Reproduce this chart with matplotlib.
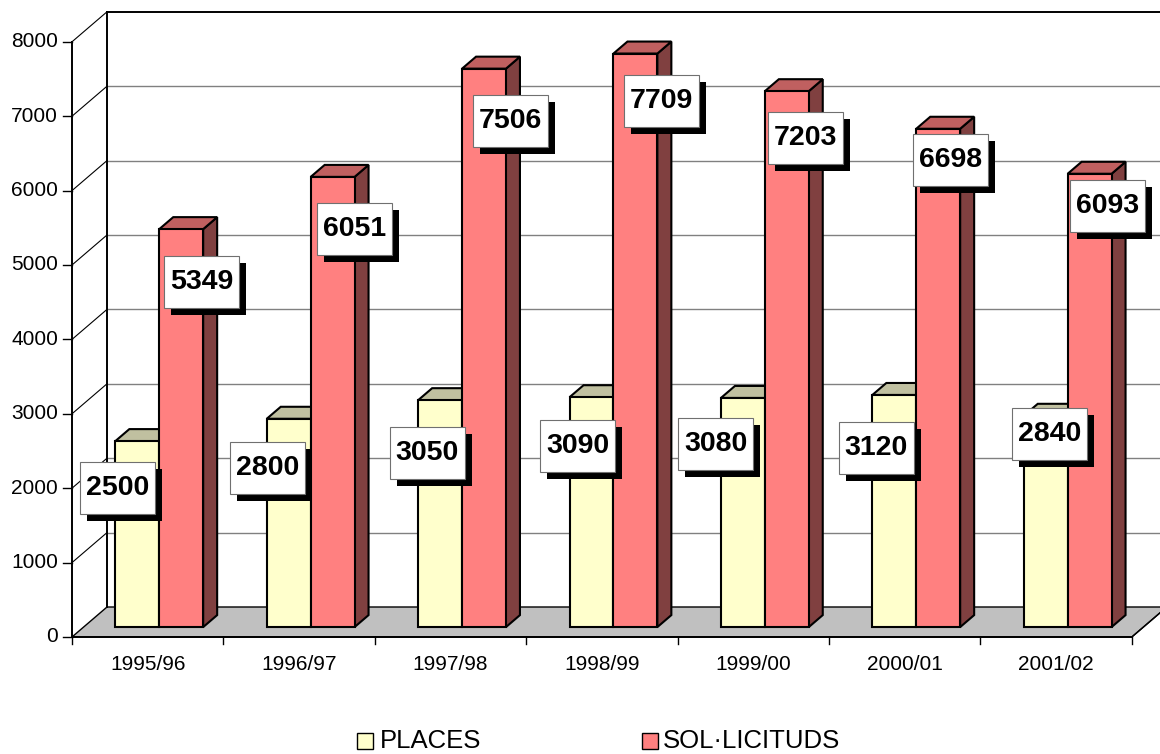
import matplotlib
matplotlib.use("Agg")
import matplotlib.pyplot as plt
from matplotlib.patches import Polygon, Rectangle

# ---------------- data ----------------
categories = ["1995/96", "1996/97", "1997/98", "1998/99", "1999/00", "2000/01", "2001/02"]
places = [2500, 2800, 3050, 3090, 3080, 3120, 2840]
sollicituds = [5349, 6051, 7506, 7709, 7203, 6698, 6093]
series_names = ["PLACES", "SOL\u00b7LICITUDS"]
yticks = [0, 1000, 2000, 3000, 4000, 5000, 6000, 7000, 8000]

# ---------------- layout / style ----------------
W, H = 1160, 754
X0_PX, Y0_PX = 72, 637          # front origin of the plot (pixels)
CAT_PX = 151.4                  # pixels per category
VAL_PX = 74.4 / 1000            # pixels per value unit
colors_front = ["#FFFFCC", "#FF8080"]
colors_top = ["#C0C0A0", "#C06060"]
colors_side = ["#A0A080", "#804040"]
bar_offsets = [0.21, 0.50]
bar_w = 0.29
d0, d1 = 0.33, 0.73
# label box offsets in pixels relative to bar front-top centre (dx right, dy down)
label_off = [
    [(-19.5, 47), (-21.4, 49), (-12.8, 52.6), (-14, 49), (-27, 46), (-18, 53), (4, 18)],
    [(20.5, 53), (21.6, 52), (26, 52), (26, 47), (19, 47), (12, 31), (18, 32)],
]

plt.rcParams["font.family"] = ["Liberation Sans", "DejaVu Sans"]

fig = plt.figure(figsize=(W / 100, H / 100), dpi=100)
ax = fig.add_axes([0, 0, 1, 1])
ax.set_xlim(-X0_PX / CAT_PX, (W - X0_PX) / CAT_PX)
ax.set_ylim(-(H - Y0_PX) / VAL_PX, Y0_PX / VAL_PX)
ax.axis("off")


def dxp(px):
    return px / CAT_PX


def dyp(px):
    return px / VAL_PX


DEPTH_X = dxp(35)
DEPTH_Y = dyp(30)
n = len(categories)
vmax = yticks[-1]


def P(x, v, d):
    return (x + d * DEPTH_X, v + d * DEPTH_Y)


# floor
ax.add_patch(Polygon([P(0, 0, 0), P(n, 0, 0), P(n, 0, 1), P(0, 0, 1)],
                     closed=True, fc="#C0C0C0", ec="black", lw=1.0, zorder=1))

# back wall gridlines and side wall diagonals
for v in yticks[1:]:
    a, b = P(0, v, 1), P(n, v, 1)
    if v == vmax:
        ax.plot([a[0], b[0]], [a[1], b[1]], color="black", lw=1.4, zorder=2)
    else:
        ax.plot([a[0], b[0]], [a[1], b[1]], color="#808080", lw=1.0, zorder=2)
    c = P(0, v, 0)
    ax.plot([c[0], a[0]], [c[1], a[1]], color="black", lw=0.8, zorder=2)

# back-left vertical edge and front value axis
a, b = P(0, 0, 1), P(0, vmax, 1)
ax.plot([a[0], b[0]], [a[1], b[1]], color="black", lw=1.4, zorder=2)
ax.plot([0, 0], [0, vmax], color="black", lw=1.4, zorder=3)
ax.plot([0, n], [0, 0], color="black", lw=1.4, zorder=3)
# right floor edge
a, b = P(n, 0, 0), P(n, 0, 1)
ax.plot([a[0], b[0]], [a[1], b[1]], color="black", lw=1.0, zorder=3)

# value ticks
for v in yticks:
    ax.plot([-dxp(9), 0], [v, v], color="black", lw=1.0, zorder=3)
    ax.text(-dxp(14), v, str(v), ha="right", va="center", fontsize=15, zorder=3)

# category ticks & labels
for k in range(n + 1):
    ax.plot([k, k], [0, -dyp(7)], color="black", lw=1.0, zorder=3)
for k, c in enumerate(categories):
    ax.text(k + 0.5, -dyp(28), c, ha="center", va="center", fontsize=15, zorder=3)

# bars
series = [places, sollicituds]
ec = "black"
lw = 1.5
for i in range(n):
    for s, vals in enumerate(series):
        v = vals[i]
        x0 = i + bar_offsets[s]
        x1 = x0 + bar_w
        z = 10 + i * 3 + s
        ax.add_patch(Polygon([P(x1, 0, d0), P(x1, v, d0), P(x1, v, d1), P(x1, 0, d1)],
                             closed=True, fc=colors_side[s], ec=ec, lw=lw, zorder=z,
                             joinstyle="miter"))
        ax.add_patch(Polygon([P(x0, v, d0), P(x1, v, d0), P(x1, v, d1), P(x0, v, d1)],
                             closed=True, fc=colors_top[s], ec=ec, lw=lw, zorder=z,
                             joinstyle="miter"))
        ax.add_patch(Polygon([P(x0, 0, d0), P(x1, 0, d0), P(x1, v, d0), P(x0, v, d0)],
                             closed=True, fc=colors_front[s], ec=ec, lw=lw, zorder=z,
                             joinstyle="miter"))

# data labels
BOX_W, BOX_H, SH = 75, 52, 7
for s, vals in enumerate(series):
    for i, v in enumerate(vals):
        x0 = i + bar_offsets[s]
        cx, cy = P(x0 + bar_w / 2, v, d0)
        ox, oy = label_off[s][i]
        cx += dxp(ox)
        cy -= dyp(oy)
        bx, by = cx - dxp(BOX_W / 2), cy - dyp(BOX_H / 2)
        ax.add_patch(Rectangle((bx + dxp(SH), by - dyp(SH)), dxp(BOX_W), dyp(BOX_H),
                               fc="black", ec="none", zorder=60))
        ax.add_patch(Rectangle((bx, by), dxp(BOX_W), dyp(BOX_H),
                               fc="white", ec="#707070", lw=0.8, zorder=61))
        ax.text(cx, cy, str(v), ha="center", va="center", fontsize=20.5,
                fontweight="bold", zorder=62)


# legend (pixel positions)
def px_x(px):
    return (px - X0_PX) / CAT_PX


def px_y(row):
    return (Y0_PX - row) / VAL_PX


leg_sq_x = [357, 642]
leg_txt_x = [380, 663]
leg_y = 741
for s, name in enumerate(series_names):
    ax.add_patch(Rectangle((px_x(leg_sq_x[s]), px_y(leg_y + 8)), dxp(16), dyp(16),
                           fc=colors_front[s], ec="black", lw=1.0, zorder=5))
    ax.text(px_x(leg_txt_x[s]), px_y(leg_y), name, ha="left", va="center",
            fontsize=18.5, zorder=5)

fig.savefig("out.png", dpi=100)
